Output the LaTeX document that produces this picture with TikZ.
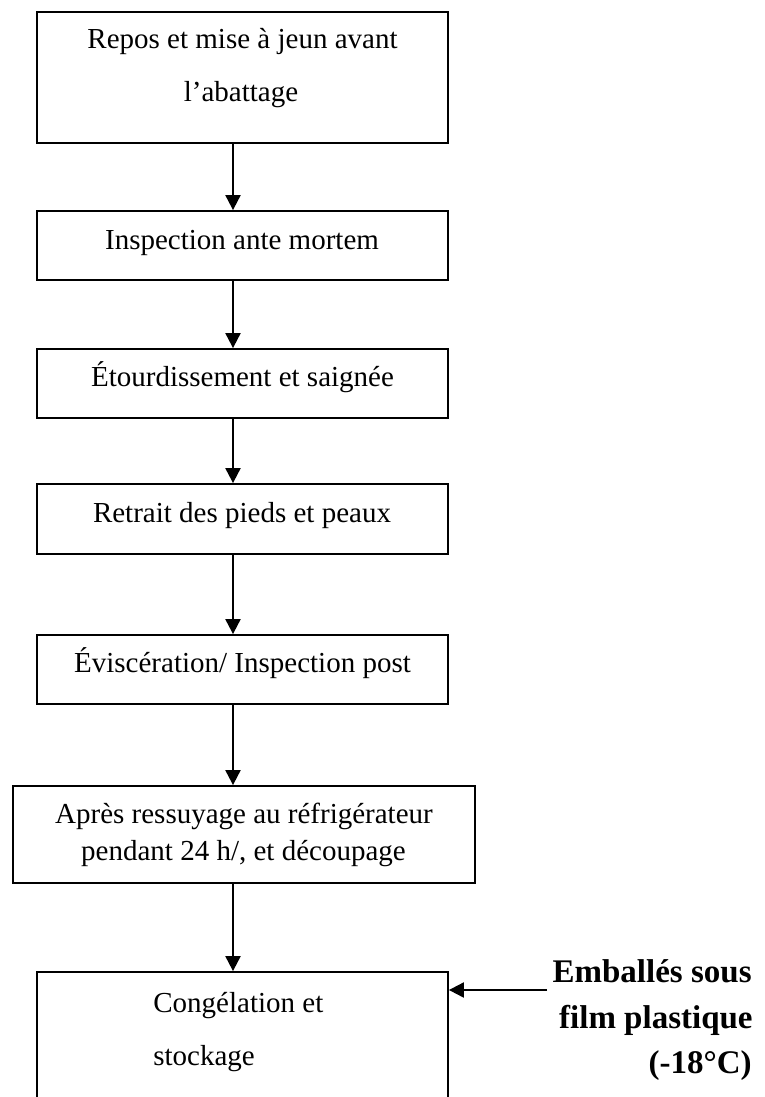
\documentclass[tikz,border=0pt]{standalone}
\usepackage{fontspec}
\setmainfont{Liberation Serif}
\usetikzlibrary{arrows.meta}
\begin{document}
\begin{tikzpicture}[x=0.5pt,y=-0.5pt,
  stepbox/.style={draw=black,line width=0.9pt,rectangle,inner sep=0pt,minimum width=205.5pt},
  txt/.style={anchor=base,inner sep=0pt,font=\fontsize{14.5}{17}\selectfont},
  side/.style={anchor=base east,inner sep=0pt,font=\fontsize{16.5}{19}\selectfont\bfseries},
  arr/.style={line width=1pt,-{Triangle[width=7.5pt,length=7.5pt]}}]
\useasboundingbox (0,0) rectangle (765,1097);
\clip (0,0) rectangle (765,1097);
% boxes
\node[stepbox,minimum height=65.5pt] (b1) at (242.5,77.5) {};
\node[stepbox,minimum height=34.5pt] (b2) at (242.5,245.5) {};
\node[stepbox,minimum height=34.5pt] (b3) at (242.5,383.5) {};
\node[stepbox,minimum height=35pt] (b4) at (242.5,519) {};
\node[stepbox,minimum height=34.5pt] (b5) at (242.5,669.5) {};
\node[stepbox,minimum width=231pt,minimum height=48.5pt] (b6) at (244,834.5) {};
\node[stepbox,minimum height=69pt] (b7) at (242.5,1041) {};
% texts
\node[txt] (t1a) at (242.5,49) {Repos et mise à jeun avant};
\node[txt] (t1b) at (241,102) {l’abattage};
\node[txt] (t2) at (242,249) {Inspection ante mortem};
\node[txt] (t3) at (242.5,386) {Étourdissement et saignée};
\node[txt] (t4) at (242,522) {Retrait des pieds et peaux};
\node[txt] (t5) at (242.5,672) {Éviscération/ Inspection post};
\node[txt] (t6a) at (244,823) {Après ressuyage au réfrigérateur};
\node[txt] (t6b) at (243.5,860) {pendant 24 h/, et découpage};
\node[txt,anchor=base west] (t7a) at (153,1012) {Congélation et};
\node[txt,anchor=base west] (t7b) at (153,1065) {stockage};
\node[side] (s1) at (752,982) {Emballés sous};
\node[side] (s2) at (753,1028) {film plastique};
\node[side] (s3) at (752,1073) {(-18°C)};
% arrows
\coordinate (xa) at (233,0);
\draw[arr] (b1.south -| xa) -- (b2.north -| xa);
\draw[arr] (b2.south -| xa) -- (b3.north -| xa);
\draw[arr] (b3.south -| xa) -- (b4.north -| xa);
\draw[arr] (b4.south -| xa) -- (b5.north -| xa);
\draw[arr] (b5.south -| xa) -- (b6.north -| xa);
\draw[arr] (b6.south -| xa) -- (b7.north -| xa);
\coordinate (pk) at (547,990);
\draw[arr] (pk) -- (pk -| b7.east);
\end{tikzpicture}
\end{document}
